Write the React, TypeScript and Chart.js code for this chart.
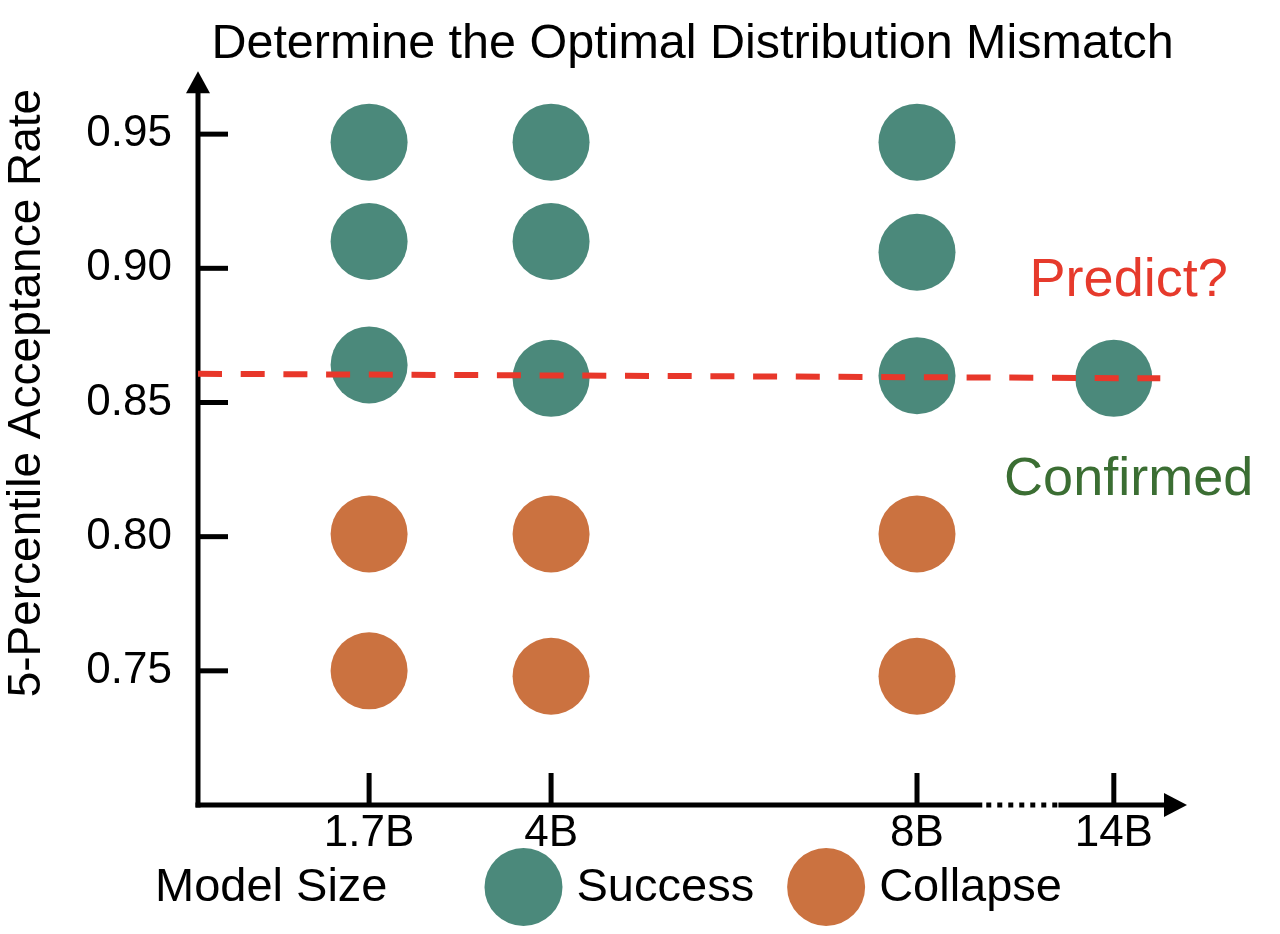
import React, { useEffect, useRef } from 'react';
import { Chart, registerables } from 'chart.js';

Chart.register(...registerables);

const FONT = '"Liberation Sans", Arial, Helvetica, sans-serif';

const chartTitle = 'Determine the Optimal Distribution Mismatch';
const yAxisTitle = '5-Percentile Acceptance Rate';
const xAxisTitle = 'Model Size';

// Model sizes and their schematic (non-proportional) slots along the x axis
const modelSizes = ['1.7B', '4B', '8B', '14B'];
const modelSizeSlots = [1.73, 3.57, 7.27, 9.26];
const xAxisMin = 0;
const xAxisMax = 10;
const xAxisBreak = [7.93, 8.7];

// Y axis
const yTicks = [0.75, 0.8, 0.85, 0.9, 0.95];
const yAxisMin = 0.7;
const yAxisMax = 0.9734;

// Success runs
const successSizes = ['1.7B', '1.7B', '1.7B', '4B', '4B', '4B', '8B', '8B', '8B', '14B'];
const successRates = [0.947, 0.91, 0.864, 0.947, 0.91, 0.859, 0.947, 0.906, 0.86, 0.859];

// Collapse runs
const collapseSizes = ['1.7B', '1.7B', '4B', '4B', '8B', '8B'];
const collapseRates = [0.801, 0.75, 0.801, 0.748, 0.801, 0.748];

// Predicted optimal mismatch threshold (dashed line)
const predictLineX = [0, 9.73];
const predictLineRates = [0.8607, 0.859];

// Annotations
const annotationTexts = ['Predict?', 'Confirmed'];
const annotationX = [9.41, 9.41];
const annotationRates = [0.8898, 0.8156];
const annotationColors = ['#e63a2c', '#3b6e33'];

const successColor = '#4b897b';
const collapseColor = '#cb7240';
const predictColor = '#e8372a';

const slotOf = (size: string) => modelSizeSlots[modelSizes.indexOf(size)];

const decorPlugin = {
  id: 'schematicDecor',
  beforeDatasetsDraw(chart: any) {
    const { ctx, chartArea: a, scales } = chart;
    const x = scales.x;
    const y = scales.y;
    ctx.save();
    ctx.fillStyle = '#000';
    ctx.strokeStyle = '#000';
    ctx.lineWidth = 5;
    ctx.lineCap = 'butt';
    const seg = (x1: number, y1: number, x2: number, y2: number) => {
      ctx.beginPath();
      ctx.moveTo(x1, y1);
      ctx.lineTo(x2, y2);
      ctx.stroke();
    };
    // y axis with arrow
    seg(a.left, a.bottom + 2.5, a.left, a.top + 20);
    ctx.beginPath();
    ctx.moveTo(a.left, a.top);
    ctx.lineTo(a.left - 12, a.top + 22);
    ctx.lineTo(a.left + 12, a.top + 22);
    ctx.closePath();
    ctx.fill();
    // x axis: solid, dotted break, solid, arrow
    const b0 = x.getPixelForValue(xAxisBreak[0]);
    const b1 = x.getPixelForValue(xAxisBreak[1]);
    seg(a.left - 2.5, a.bottom, b0, a.bottom);
    ctx.setLineDash([5, 6]);
    seg(b0 + 4, a.bottom, b1, a.bottom);
    ctx.setLineDash([]);
    seg(b1, a.bottom, a.right - 20, a.bottom);
    ctx.beginPath();
    ctx.moveTo(a.right, a.bottom);
    ctx.lineTo(a.right - 23, a.bottom - 12);
    ctx.lineTo(a.right - 23, a.bottom + 12);
    ctx.closePath();
    ctx.fill();
    // tick marks (inside the axes)
    yTicks.forEach((v) => {
      const py = y.getPixelForValue(v);
      seg(a.left, py, a.left + 30, py);
    });
    modelSizeSlots.forEach((v) => {
      const px = x.getPixelForValue(v);
      seg(px, a.bottom, px, a.bottom - 32);
    });
    ctx.restore();
  },
  afterDatasetsDraw(chart: any) {
    const { ctx, scales } = chart;
    const x = scales.x;
    const y = scales.y;
    ctx.save();
    // annotations
    ctx.font = `54px ${FONT}`;
    ctx.textAlign = 'center';
    ctx.textBaseline = 'alphabetic';
    annotationTexts.forEach((t, i) => {
      ctx.fillStyle = annotationColors[i];
      ctx.fillText(t, x.getPixelForValue(annotationX[i]), y.getPixelForValue(annotationRates[i]));
    });
    // y axis title
    ctx.save();
    ctx.translate(27, y.getPixelForValue(0.8535));
    ctx.rotate(-Math.PI / 2);
    ctx.font = `46px ${FONT}`;
    ctx.fillStyle = '#000';
    ctx.textAlign = 'center';
    ctx.textBaseline = 'middle';
    ctx.fillText(yAxisTitle, 0, 0);
    ctx.restore();
    // bottom legend row
    const baseline = 901;
    const r = 39;
    ctx.font = `47px ${FONT}`;
    ctx.textAlign = 'left';
    ctx.textBaseline = 'alphabetic';
    ctx.fillStyle = '#000';
    let cx = 155;
    ctx.fillText(xAxisTitle, cx, baseline);
    cx += ctx.measureText(xAxisTitle).width + 97;
    chart.data.datasets.forEach((ds: any) => {
      if (ds.showLine) return;
      ctx.fillStyle = ds.backgroundColor;
      ctx.beginPath();
      ctx.arc(cx + r, baseline - 14, r, 0, Math.PI * 2);
      ctx.fill();
      cx += 2 * r + 14;
      ctx.fillStyle = '#000';
      ctx.fillText(ds.label, cx, baseline);
      cx += ctx.measureText(ds.label).width + 33;
    });
    ctx.restore();
  },
};

export default function App() {
  const ref = useRef<HTMLCanvasElement>(null);
  useEffect(() => {
    const chart = new Chart(ref.current as HTMLCanvasElement, {
      type: 'scatter',
      data: {
        datasets: [
          {
            label: 'Predict',
            data: predictLineX.map((v, i) => ({ x: v, y: predictLineRates[i] })),
            showLine: true,
            borderColor: predictColor,
            backgroundColor: predictColor,
            borderWidth: 6,
            borderDash: [24, 18.7],
            pointRadius: 0,
            pointHoverRadius: 0,
            order: 0,
          },
          {
            label: 'Success',
            data: successSizes.map((s, i) => ({ x: slotOf(s), y: successRates[i] })),
            backgroundColor: successColor,
            borderWidth: 0,
            pointRadius: 38.5,
            pointHoverRadius: 38.5,
            order: 1,
          },
          {
            label: 'Collapse',
            data: collapseSizes.map((s, i) => ({ x: slotOf(s), y: collapseRates[i] })),
            backgroundColor: collapseColor,
            borderWidth: 0,
            pointRadius: 38.5,
            pointHoverRadius: 38.5,
            order: 1,
          },
        ],
      },
      options: {
        animation: false,
        responsive: true,
        maintainAspectRatio: false,
        events: [],
        layout: { padding: { left: 0, right: 93, top: 0, bottom: 0 } },
        plugins: {
          legend: { display: false },
          tooltip: { enabled: false },
          title: {
            display: true,
            text: chartTitle,
            fullSize: false,
            color: '#000',
            font: { family: FONT, size: 48.5, weight: 'normal', lineHeight: 1.1 },
            padding: { top: 18, bottom: 0 },
          },
        },
        scales: {
          x: {
            type: 'linear',
            min: xAxisMin,
            max: xAxisMax,
            grid: { display: false, drawTicks: false },
            border: { display: false },
            afterBuildTicks: (scale: any) => {
              scale.ticks = modelSizeSlots.map((v) => ({ value: v }));
            },
            afterFit: (scale: any) => {
              scale.height = 129;
            },
            ticks: {
              autoSkip: false,
              maxRotation: 0,
              padding: 2,
              color: '#000',
              font: { family: FONT, size: 44 },
              callback: (_v: any, i: number) => modelSizes[i],
            },
          },
          y: {
            type: 'linear',
            min: yAxisMin,
            max: yAxisMax,
            grid: { display: false, drawTicks: false },
            border: { display: false },
            afterBuildTicks: (scale: any) => {
              scale.ticks = yTicks.map((v) => ({ value: v }));
            },
            afterFit: (scale: any) => {
              scale.width = 198;
            },
            ticks: {
              autoSkip: false,
              padding: 26,
              color: '#000',
              font: { family: FONT, size: 44 },
              callback: (v: any) => Number(v).toFixed(2),
            },
          },
        },
      },
      plugins: [decorPlugin],
    } as any);
    return () => chart.destroy();
  }, []);
  return (
    <div style={{ position: 'absolute', left: 0, top: 0, width: 1280, height: 934, background: '#fff' }}>
      <canvas ref={ref} />
    </div>
  );
}
